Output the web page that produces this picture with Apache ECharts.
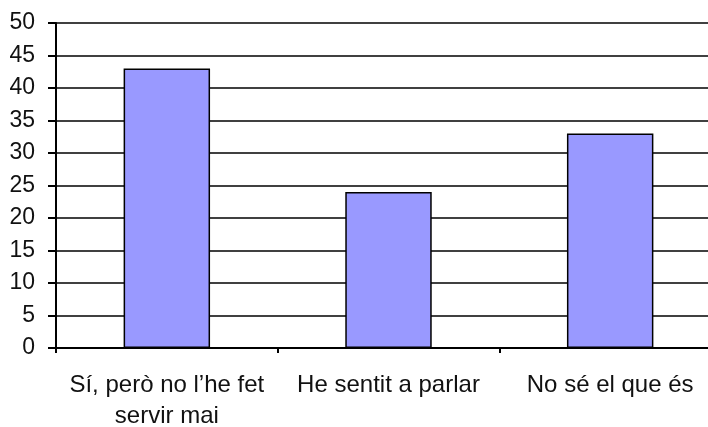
<!DOCTYPE html>
<html>
<head>
<meta charset="utf-8">
<script src="https://cdn.jsdelivr.net/npm/echarts@6/dist/echarts.min.js"></script>
<style>
  html, body { margin: 0; padding: 0; background: #ffffff; }
  #chart { width: 708px; height: 427px; }
</style>
</head>
<body>
<div id="chart"></div>
<script>
// Survey answers and counts
const categories = ['Sí, però no l’he fet\nservir mai', 'He sentit a parlar', 'No sé el que és'];
const counts = [43, 24, 33];
const yTicks = { min: 0, max: 50, interval: 5 };

const chart = echarts.init(document.getElementById('chart'), null, { renderer: 'canvas' });

chart.setOption({
  animation: false,
  backgroundColor: '#ffffff',
  textStyle: { fontFamily: 'Liberation Sans, Arial, sans-serif' },
  grid: {
    left: 56, right: -13, top: 23, bottom: 79,
    containLabel: false,
    outerBoundsMode: 'none'
  },
  xAxis: {
    type: 'category',
    data: categories,
    axisLine: { show: true, lineStyle: { color: '#000', width: 2 } },
    axisTick: { show: true, length: 5, lineStyle: { color: '#000', width: 2 } },
    axisLabel: {
      color: '#111',
      fontSize: 24,
      lineHeight: 31,
      margin: 22,
      interval: 0
    },
    splitLine: { show: false }
  },
  yAxis: {
    type: 'value',
    min: yTicks.min,
    max: yTicks.max,
    interval: yTicks.interval,
    axisLine: { show: true, lineStyle: { color: '#000', width: 2 } },
    axisTick: { show: true, length: 8, lineStyle: { color: '#000', width: 2 } },
    axisLabel: { color: '#111', fontSize: 23, margin: 21 },
    splitLine: { show: true, lineStyle: { color: '#000', width: 1.5 } }
  },
  series: [{
    type: 'bar',
    data: counts,
    barWidth: '39%',
    itemStyle: { color: '#9999FF', borderColor: '#000', borderWidth: 1.5 }
  }]
});
</script>
</body>
</html>
